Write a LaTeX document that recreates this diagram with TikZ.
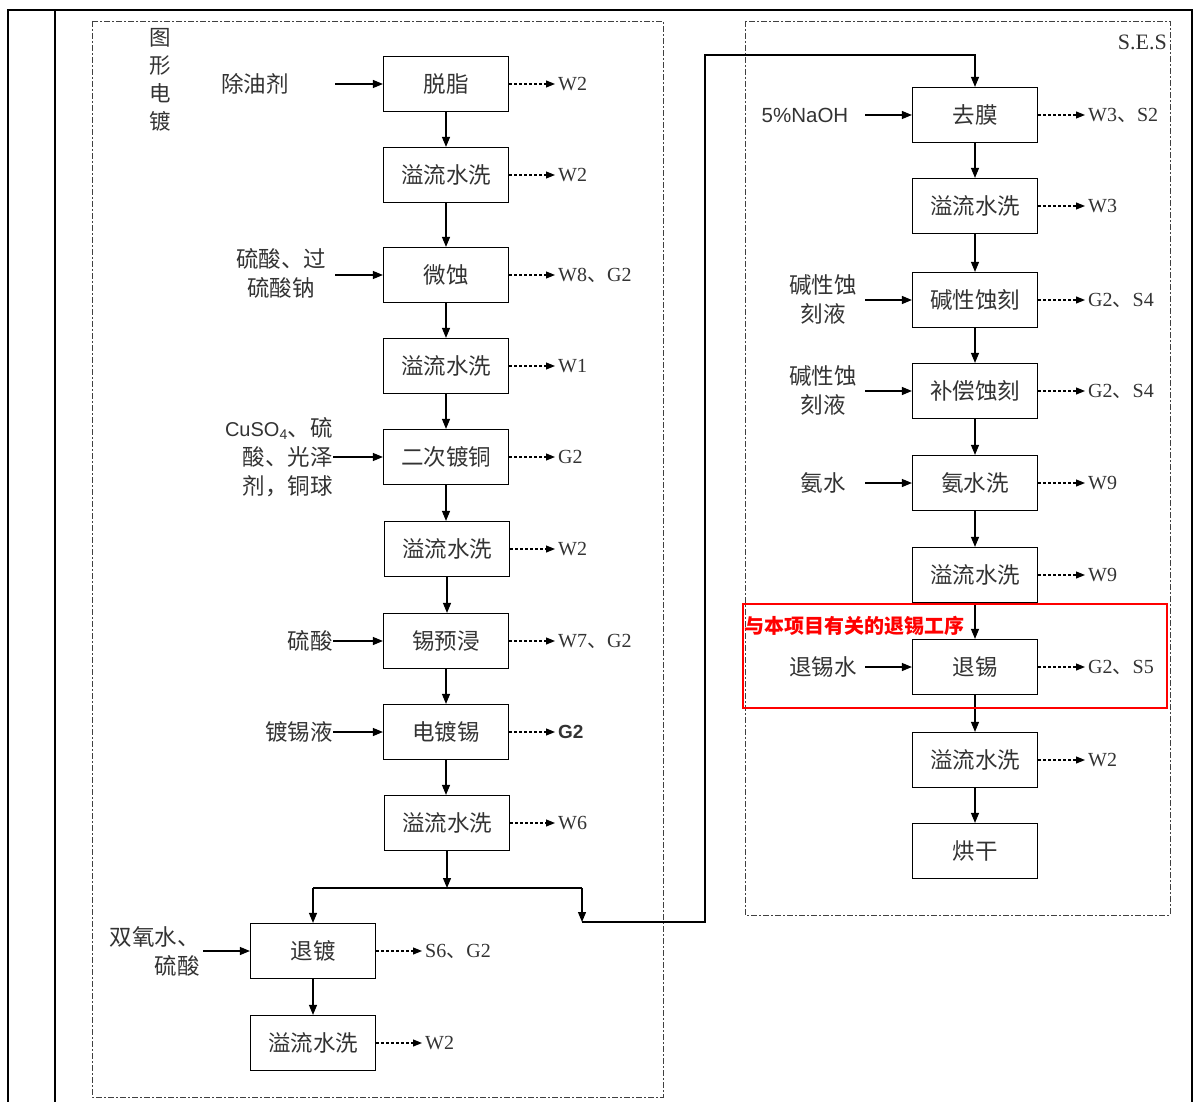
\documentclass[tikz,border=0pt]{standalone}
\usepackage{fontspec}
\setmainfont{Liberation Serif}
\newfontfamily\cjk{Noto Sans CJK SC}
\newfontfamily\lsans{Liberation Sans}
\usetikzlibrary{arrows.meta}
\newcommand\dn{{\cjk 、}}
\begin{document}
\begin{tikzpicture}[x=1pt,y=-1pt,
  pbox/.style={draw, line width=1.2pt, minimum width=125pt, minimum height=55pt, inner sep=0pt,
    font=\cjk\fontsize{22.5}{24}\selectfont, text=black!80},
  flow/.style={line width=1.2pt, -{Triangle[length=10pt,width=8pt]}},
  line/.style={line width=1.2pt},
  outp/.style={line width=1.1pt, dash pattern=on 3pt off 2pt, -{Triangle[length=9pt,width=7pt]}},
  olab/.style={anchor=west, inner sep=0pt, font=\fontsize{20}{24}\selectfont, text=black!80},
  ilab/.style={inner sep=0pt, font=\cjk\fontsize{22.5}{29}\selectfont, text=black!80},
  frame/.style={line width=2.4pt},
  dbox/.style={line width=0.8pt, black!75, dash pattern=on 6pt off 2pt on 2pt off 2pt}
]
\useasboundingbox (0,0) rectangle (1195,1102);
% outer frame
\draw[frame] (8,1102) -- (8,10) -- (1192,10) -- (1192,1102);
\draw[frame] (55,10) -- (55,1102);
% dashed group boxes
\draw[dbox] (92,21) rectangle (663,1097);
\draw[dbox] (745,21) rectangle (1170,915);
% titles
\node[ilab, align=center, font=\cjk\fontsize{21.5}{28}\selectfont] (title) at (160,80) {图\\形\\电\\镀};
\node[olab, anchor=east, font=\fontsize{22}{24}\selectfont] (ses) at (1167,42) {S.E.S};

% left column
\node[pbox] (L1) at (446,84) {脱脂};
\node[pbox] (L2) at (446,175) {溢流水洗};
\node[pbox] (L3) at (446,275) {微蚀};
\node[pbox] (L4) at (446,366) {溢流水洗};
\node[pbox] (L5) at (446,457) {二次镀铜};
\node[pbox] (L6) at (447,549) {溢流水洗};
\node[pbox] (L7) at (446,641) {锡预浸};
\node[pbox] (L8) at (446,732) {电镀锡};
\node[pbox] (L9) at (447,823) {溢流水洗};
\node[pbox] (L10) at (313,951) {退镀};
\node[pbox] (L11) at (313,1043) {溢流水洗};

% right column
\node[pbox] (R1) at (975,115) {去膜};
\node[pbox] (R2) at (975,206) {溢流水洗};
\node[pbox] (R3) at (975,300) {碱性蚀刻};
\node[pbox] (R4) at (975,391) {补偿蚀刻};
\node[pbox] (R5) at (975,483) {氨水洗};
\node[pbox] (R6) at (975,575) {溢流水洗};
\node[pbox] (R7) at (975,667) {退锡};
\node[pbox] (R8) at (975,760) {溢流水洗};
\node[pbox] (R9) at (975,851) {烘干};

\foreach \a/\b in {L1/L2,L2/L3,L3/L4,L4/L5,L5/L6,L6/L7,L7/L8,L8/L9}
  \draw[flow] (\a.south) -- (\a.south |- \b.north);
\draw[flow] (L10) -- (L11);
\foreach \a/\b in {R1/R2,R2/R3,R3/R4,R4/R5,R5/R6,R6/R7,R7/R8,R8/R9}
  \draw[flow] (\a) -- (\b);

% split
\coordinate (sp) at (447,888);
\coordinate (spl) at (313,888);
\coordinate (spr) at (582,888);
\coordinate (tr) at (582,922);
\coordinate (tx) at (705,922);
\coordinate (ty) at (705,55);
\draw[flow] (L9.south) -- (sp);
\draw[line] (spl) -- (spr);
\draw[flow] (spl) -- (L10.north);
\draw[flow] (spr) -- (tr);
\draw[flow] (tr) -- (tx) -- (ty) -| (R1.north);

% left outputs
\foreach \n/\t in {L1/W2,L2/W2,L3/{W8\dn G2},L4/W1,L5/G2,L6/W2,L7/{W7\dn G2},L9/W6}{
  \coordinate (\n o) at (555,0 |- \n.east);
  \draw[outp] (\n.east) -- (\n o);
  \node[olab] at ([xshift=3pt]\n o) {\t};
}
\coordinate (L8o) at (555,732);
\draw[outp] (L8.east) -- (L8o);
\node[olab, font=\lsans\bfseries\fontsize{19}{24}\selectfont] (L8t) at ([xshift=3pt]L8o) {G2};
\coordinate (L10o) at (422,951);
\draw[outp] (L10.east) -- (L10o);
\node[olab] (L10t) at ([xshift=3pt]L10o) {S6\dn G2};
\coordinate (L11o) at (422,1043);
\draw[outp] (L11.east) -- (L11o);
\node[olab] (L11t) at ([xshift=3pt]L11o) {W2};

% left inputs
\node[ilab] (i1) at (255,84) {除油剂};
\coordinate (i1s) at (335,84);
\draw[flow] (i1s) -- (L1.west);
\node[ilab, align=center] (i3) at (281,273) {硫酸、过\\硫酸钠};
\coordinate (i3s) at (335,275);
\draw[flow] (i3s) -- (L3.west);
\node[ilab, align=right, anchor=east] (i5) at (333,457) {{\lsans\fontsize{20}{29}\selectfont CuSO\textsubscript{4}}、硫\\酸、光泽\\剂，铜球};
\draw[flow] (i5.east) -- (L5.west);
\node[ilab, anchor=east] (i7) at (333,641) {硫酸};
\draw[flow] (i7.east) -- (L7.west);
\node[ilab, anchor=east] (i8) at (333,732) {镀锡液};
\draw[flow] (i8.east) -- (L8.west);
\node[ilab, align=right, anchor=east] (i10) at (200,951) {双氧水、\\硫酸};
\coordinate (i10s) at (203,951);
\draw[flow] (i10s) -- (L10.west);

% right outputs
\foreach \n/\t in {R1/{W3\dn S2},R2/W3,R3/{G2\dn S4},R4/{G2\dn S4},R5/W9,R6/W9,R7/{G2\dn S5},R8/W2}{
  \coordinate (\n o) at (1085,0 |- \n.east);
  \draw[outp] (\n.east) -- (\n o);
  \node[olab] at ([xshift=3pt]\n o) {\t};
}

% right inputs
\node[ilab, font=\lsans\fontsize{20.5}{24}\selectfont] (r1) at (805,115) {5\%NaOH};
\coordinate (r1s) at (865,115);
\draw[flow] (r1s) -- (R1.west);
\node[ilab, align=center] (r3) at (823,299) {碱性蚀\\刻液};
\coordinate (r3s) at (865,300);
\draw[flow] (r3s) -- (R3.west);
\node[ilab, align=center] (r4) at (823,390) {碱性蚀\\刻液};
\coordinate (r4s) at (865,391);
\draw[flow] (r4s) -- (R4.west);
\node[ilab] (r5) at (823,483) {氨水};
\coordinate (r5s) at (865,483);
\draw[flow] (r5s) -- (R5.west);
\node[ilab] (r7) at (823,667) {退锡水};
\coordinate (r7s) at (865,667);
\draw[flow] (r7s) -- (R7.west);

% red highlight
\draw[red, line width=1.6pt] (743,604) rectangle (1167,708);
\node[anchor=west, inner sep=0pt, text=red, font=\cjk\bfseries\fontsize{20}{24}\selectfont] (note) at (744,626) {与本项目有关的退锡工序};
\end{tikzpicture}
\end{document}
